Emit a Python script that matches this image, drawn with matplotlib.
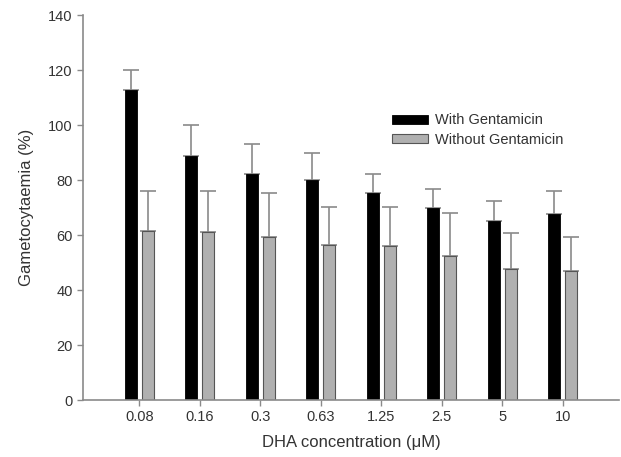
import matplotlib
matplotlib.use("Agg")
import matplotlib.pyplot as plt
import numpy as np

plt.rcParams['font.family'] = ['Liberation Sans', 'DejaVu Sans']

categories = ["0.08", "0.16", "0.3", "0.63", "1.25", "2.5", "5", "10"]
with_gent = [112.7, 88.7, 82.2, 80.0, 75.3, 69.8, 65.0, 67.6]
with_gent_err = [7.5, 11.5, 10.8, 10.0, 7.0, 7.0, 7.5, 8.4]
without_gent = [61.6, 61.0, 59.4, 56.4, 56.1, 52.5, 47.6, 46.9]
without_gent_err = [14.4, 15.0, 15.9, 13.8, 14.1, 15.5, 13.2, 12.3]

fig = plt.figure(figsize=(6.21, 4.57), dpi=100)
ax = fig.add_axes([0.1337, 0.1247, 0.8631, 0.8423])

x = np.arange(len(categories))
w = 0.2
off = 0.14
ecol = '#8a8a8a'
ax.bar(x - off, with_gent, w, color='black', edgecolor='black', linewidth=0.6,
       label='With Gentamicin', zorder=2)
ax.bar(x + off, without_gent, w, color='#b0b0b0', edgecolor='#555555', linewidth=0.8,
       label='Without Gentamicin', zorder=2)
ax.errorbar(x - off, with_gent, yerr=[np.zeros(len(x)), with_gent_err], fmt='none',
            ecolor=ecol, elinewidth=1.2, capsize=6, capthick=1.2, zorder=1)
ax.errorbar(x + off, without_gent, yerr=[np.zeros(len(x)), without_gent_err], fmt='none',
            ecolor=ecol, elinewidth=1.2, capsize=6, capthick=1.2, zorder=1)

ax.set_xlim(-0.93, 7.93)
ax.set_ylim(0, 140)
ax.set_yticks(np.arange(0, 141, 20))
ax.set_xticks(x)
ax.set_xticklabels(categories)
for s in ['top', 'right']:
    ax.spines[s].set_visible(False)
for s in ['left', 'bottom']:
    ax.spines[s].set_color('#8a8a8a')
    ax.spines[s].set_linewidth(1.2)
ax.tick_params(axis='both', colors='#8a8a8a', labelcolor='#333333', labelsize=10.5,
               length=4, width=1.0, direction='out')
ax.tick_params(axis='x', pad=3)
ax.set_xlabel('DHA concentration (μM)', fontsize=12, color='#333333', labelpad=8)
ax.set_ylabel('Gametocytaemia (%)', fontsize=12, color='#333333', labelpad=10)

leg = fig.legend(*ax.get_legend_handles_labels(), loc='center left',
                 bbox_to_anchor=(392 / 621, 1 - 130 / 457), frameon=False,
                 fontsize=10.5, handlelength=2.45, handleheight=0.55, handletextpad=0.5,
                 labelspacing=0.35, borderaxespad=0, borderpad=0)
for t in leg.get_texts():
    t.set_color('#333333')

fig.savefig('out.png', dpi=100)
